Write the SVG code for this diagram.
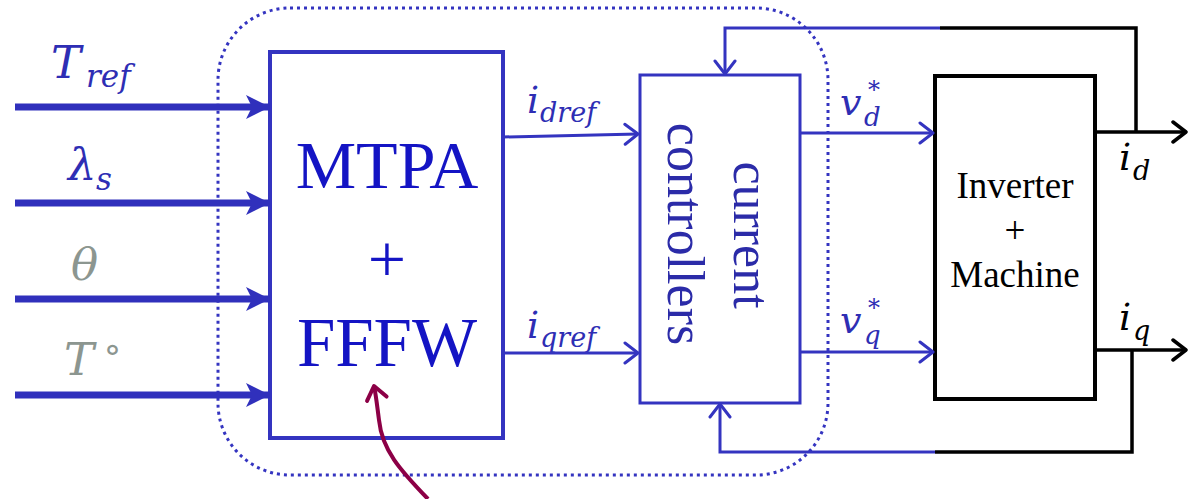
<svg xmlns="http://www.w3.org/2000/svg" width="1188" height="499" viewBox="0 0 1188 499">
  <defs>
    <marker id="bigHead" markerUnits="userSpaceOnUse" viewBox="-26 -14 28 28" refX="0" refY="0" markerWidth="28" markerHeight="28" orient="auto">
      <path d="M0,0 L-24,-12 L-18,0 L-24,12 Z" fill="#3030bc"/>
    </marker>
    <marker id="chevBlue" markerUnits="userSpaceOnUse" viewBox="-16 -14 18 28" refX="0" refY="0" markerWidth="18" markerHeight="28" orient="auto">
      <path d="M-13,-10 L0,0 L-13,10" fill="none" stroke="#3434c0" stroke-width="3" stroke-linecap="round" stroke-linejoin="round"/>
    </marker>
    <marker id="chevBlack" markerUnits="userSpaceOnUse" viewBox="-16 -14 18 28" refX="0" refY="0" markerWidth="18" markerHeight="28" orient="auto">
      <path d="M-13,-10 L0,0 L-13,10" fill="none" stroke="#000000" stroke-width="3.5" stroke-linecap="round" stroke-linejoin="round"/>
    </marker>
    <marker id="chevRed" markerUnits="userSpaceOnUse" viewBox="-16 -14 18 28" refX="0" refY="0" markerWidth="18" markerHeight="28" orient="auto">
      <path d="M-13,-10 L0,0 L-13,10" fill="none" stroke="#8c0046" stroke-width="4" stroke-linecap="round" stroke-linejoin="round"/>
    </marker>
  </defs>

  <!-- dotted boundary around the controller part -->
  <rect id="controller-boundary" x="218" y="8" width="610" height="467" rx="72" ry="72" fill="none" stroke="#3434c0" stroke-width="3" stroke-dasharray="3 4"/>

  <!-- input signal names (math italic) -->
  <g id="input-labels">
    <text style="font-family:'DejaVu Serif',serif;font-style:italic" fill="#2e2eb4" x="51" y="78" font-size="45">T</text>
    <text style="font-family:'DejaVu Serif',serif;font-style:italic" fill="#2e2eb4" x="86" y="87" font-size="31">ref</text>
    <text style="font-family:'DejaVu Serif',serif;font-style:italic" fill="#2e2eb4" x="68" y="180" font-size="45">&#955;</text>
    <text style="font-family:'DejaVu Serif',serif;font-style:italic" fill="#2e2eb4" x="96" y="190" font-size="31">s</text>
    <text style="font-family:'DejaVu Serif',serif;font-style:italic" fill="#8c9690" x="71" y="280" font-size="45">&#952;</text>
    <text style="font-family:'DejaVu Serif',serif;font-style:italic" fill="#8c9690" x="64" y="375" font-size="45">T</text>
    <text style="font-family:'DejaVu Serif',serif" fill="#8c9690" x="104" y="370" font-size="34">&#176;</text>
  </g>

  <g id="mtpa-fffw">
    <rect x="270" y="52" width="233" height="386" fill="#ffffff" stroke="#3434c0" stroke-width="4"/>
    <text style="font-family:'Liberation Serif',serif" x="387" y="188" font-size="68" fill="#1414c4" text-anchor="middle">MTPA</text>
    <text style="font-family:'Liberation Serif',serif" x="387" y="282" font-size="68" fill="#1414c4" text-anchor="middle">+</text>
    <text style="font-family:'Liberation Serif',serif" x="387" y="366" font-size="69" fill="#1414c4" text-anchor="middle">FFFW</text>
  </g>

  <g id="current-labels">
    <text style="font-family:'DejaVu Serif',serif;font-style:italic" fill="#2e2eb4" x="527" y="113" font-size="38">i</text>
    <text style="font-family:'DejaVu Serif',serif;font-style:italic" fill="#2e2eb4" x="540" y="122" font-size="27">dref</text>
    <text style="font-family:'DejaVu Serif',serif;font-style:italic" fill="#2e2eb4" x="527" y="338" font-size="38">i</text>
    <text style="font-family:'DejaVu Serif',serif;font-style:italic" fill="#2e2eb4" x="540" y="347" font-size="27">qref</text>
  </g>

  <g id="current-controllers">
    <rect x="640" y="75" width="160" height="328" fill="#ffffff" stroke="#3434c0" stroke-width="3"/>
    <text style="font-family:'Liberation Serif',serif" transform="translate(734,235) rotate(90)" font-size="52" fill="#2b2ba8" text-anchor="middle">current</text>
    <text style="font-family:'Liberation Serif',serif" transform="translate(668,234) rotate(90)" font-size="52" fill="#2b2ba8" text-anchor="middle">controllers</text>
  </g>

  <g id="voltage-labels">
    <text style="font-family:'DejaVu Serif',serif;font-style:italic" fill="#2e2eb4" x="840" y="115" font-size="38">v</text>
    <text style="font-family:'DejaVu Serif',serif;font-style:italic" fill="#2e2eb4" x="864" y="126" font-size="26">d</text>
    <text style="font-family:'DejaVu Serif',serif" fill="#2e2eb4" x="868" y="98" font-size="24">*</text>
    <text style="font-family:'DejaVu Serif',serif;font-style:italic" fill="#2e2eb4" x="840" y="333" font-size="38">v</text>
    <text style="font-family:'DejaVu Serif',serif;font-style:italic" fill="#2e2eb4" x="864" y="344" font-size="26">q</text>
    <text style="font-family:'DejaVu Serif',serif" fill="#2e2eb4" x="868" y="316" font-size="24">*</text>
  </g>

  <g id="inverter-machine">
    <rect x="935" y="76" width="160" height="323" fill="#ffffff" stroke="#000000" stroke-width="4"/>
    <text style="font-family:'Liberation Serif',serif" x="1015" y="198" font-size="37" text-anchor="middle">Inverter</text>
    <text style="font-family:'Liberation Serif',serif" x="1015" y="243" font-size="37" text-anchor="middle">+</text>
    <text style="font-family:'Liberation Serif',serif" x="1015" y="287" font-size="37" text-anchor="middle">Machine</text>
  </g>

  <g id="output-labels">
    <text style="font-family:'DejaVu Serif',serif;font-style:italic" x="1119" y="170" font-size="38">i</text>
    <text style="font-family:'DejaVu Serif',serif;font-style:italic" x="1133" y="180" font-size="27">d</text>
    <text style="font-family:'DejaVu Serif',serif;font-style:italic" x="1119" y="330" font-size="38">i</text>
    <text style="font-family:'DejaVu Serif',serif;font-style:italic" x="1133" y="340" font-size="27">q</text>
  </g>

  <g id="connectors" fill="none">
    <!-- inputs to MTPA + FFFW -->
    <g stroke="#3030bc" stroke-width="7">
      <line x1="15" y1="107" x2="270" y2="107" marker-end="url(#bigHead)"/>
      <line x1="15" y1="203" x2="270" y2="203" marker-end="url(#bigHead)"/>
      <line x1="15" y1="299" x2="270" y2="299" marker-end="url(#bigHead)"/>
      <line x1="15" y1="395" x2="270" y2="395" marker-end="url(#bigHead)"/>
    </g>
    <g stroke="#3434c0" stroke-width="3">
      <!-- current references -->
      <line x1="503" y1="137" x2="638" y2="134" marker-end="url(#chevBlue)"/>
      <line x1="503" y1="353" x2="638" y2="353" marker-end="url(#chevBlue)"/>
      <!-- voltage references -->
      <line x1="800" y1="133" x2="933" y2="133" marker-end="url(#chevBlue)"/>
      <line x1="800" y1="352" x2="933" y2="352" marker-end="url(#chevBlue)"/>
      <!-- blue part of the feedback paths -->
      <polyline points="940,28 725,28 725,74" marker-end="url(#chevBlue)"/>
      <polyline points="935,452 720,452 720,404" marker-end="url(#chevBlue)"/>
    </g>
    <g stroke="#000000" stroke-width="3.5">
      <!-- measured outputs -->
      <line x1="1097" y1="132" x2="1186" y2="132" marker-end="url(#chevBlack)"/>
      <line x1="1097" y1="350" x2="1186" y2="350" marker-end="url(#chevBlack)"/>
      <!-- black part of the feedback paths -->
      <polyline points="1136,132 1136,28 940,28"/>
      <polyline points="1132,350 1132,452 935,452"/>
    </g>
    <!-- external parameter input -->
    <path d="M428,499 C400,470 382,450 379,420 C377,405 376,395 374,386" stroke="#8c0046" stroke-width="4" marker-end="url(#chevRed)"/>
  </g>
</svg>
